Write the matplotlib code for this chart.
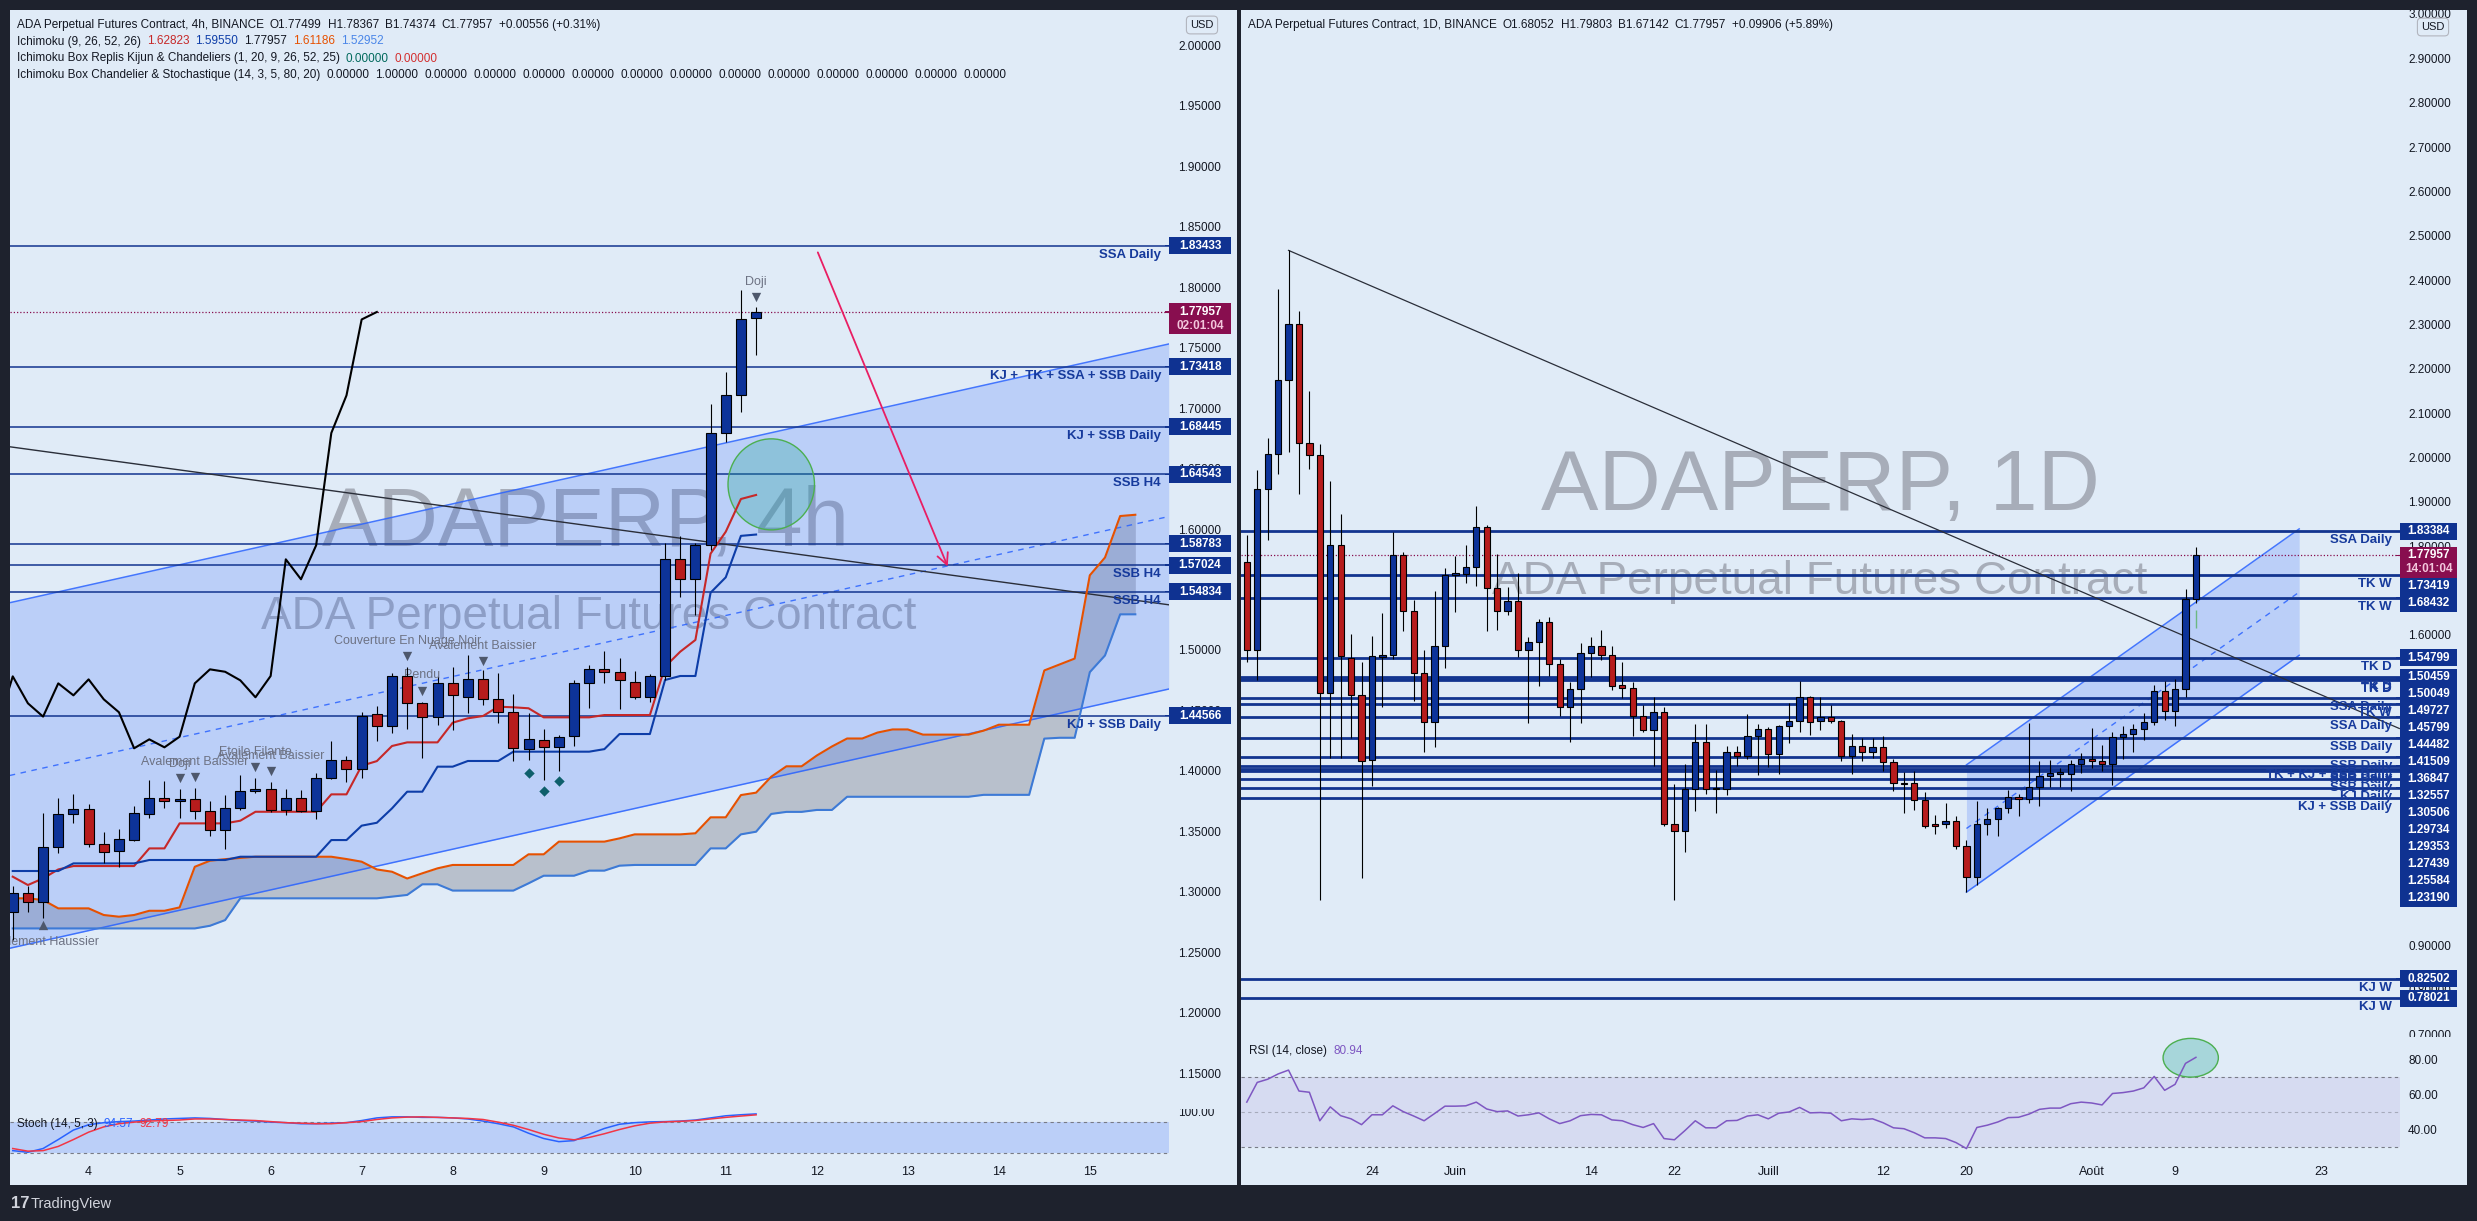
import numpy as np
import matplotlib
matplotlib.use("Agg")
import matplotlib.pyplot as plt
from matplotlib.patches import Rectangle, Ellipse
from matplotlib import transforms as mtrans
from matplotlib import font_manager

plt.rcParams['font.family'] = ['Liberation Sans', 'DejaVu Sans']

# ============================ DATA ============================
# ---- 4h chart: bar index 0 = 4 Aug 00:00, one step = one 4h bar ----
bar4h = list(range(-5, 45))
open4h = [1.2830, 1.2987, 1.2918, 1.3367, 1.3640, 1.3682, 1.3392, 1.3334, 1.3425, 1.3640,
          1.3773, 1.3748, 1.3764, 1.3665, 1.3508, 1.3690, 1.3833, 1.3847, 1.3676, 1.3773,
          1.3665, 1.3944, 1.4087, 1.4013, 1.4467, 1.4368, 1.4785, 1.4559, 1.4449, 1.4724,
          1.4614, 1.4757, 1.4598, 1.4485, 1.4178, 1.4253, 1.4195, 1.4289, 1.4724, 1.4840,
          1.4820, 1.4738, 1.4609, 1.4785, 1.5750, 1.5585, 1.5866, 1.6795, 1.7106, 1.77499]
high4h = [1.3048, 1.3048, 1.3649, 1.3775, 1.3810, 1.3723, 1.3491, 1.3522, 1.3709, 1.3924,
          1.3916, 1.3850, 1.3858, 1.3750, 1.3800, 1.3966, 1.3941, 1.3908, 1.3850, 1.3842,
          1.3979, 1.4247, 1.4123, 1.4484, 1.4536, 1.4812, 1.4862, 1.4573, 1.4779, 1.4862,
          1.4959, 1.4835, 1.4807, 1.4633, 1.4476, 1.4344, 1.4297, 1.4752, 1.4876, 1.4992,
          1.4931, 1.4826, 1.4799, 1.5882, 1.5943, 1.5882, 1.7035, 1.7302, 1.7980, 1.78367]
low4h = [1.2601, 1.2835, 1.2786, 1.3323, 1.3566, 1.3367, 1.3241, 1.3202, 1.3420, 1.3613,
         1.3695, 1.3607, 1.3599, 1.3458, 1.3351, 1.3676, 1.3814, 1.3662, 1.3635, 1.3657,
         1.3604, 1.3935, 1.3910, 1.3944, 1.4247, 1.4310, 1.4349, 1.4110, 1.4382, 1.4338,
         1.4476, 1.4545, 1.4399, 1.4085, 1.4088, 1.3925, 1.4002, 1.4209, 1.4517, 1.4724,
         1.4509, 1.4592, 1.4573, 1.4752, 1.5436, 1.5287, 1.5830, 1.6720, 1.6965, 1.74374]
close4h = [1.2987, 1.2918, 1.3367, 1.3640, 1.3682, 1.3392, 1.3326, 1.3433, 1.3649, 1.3775,
           1.3748, 1.3764, 1.3665, 1.3508, 1.3690, 1.3833, 1.3847, 1.3676, 1.3773, 1.3665,
           1.3938, 1.4087, 1.4013, 1.4450, 1.4368, 1.4782, 1.4559, 1.4449, 1.4724, 1.4625,
           1.4757, 1.4592, 1.4485, 1.4187, 1.4261, 1.4195, 1.4283, 1.4724, 1.4840, 1.4820,
           1.4749, 1.4609, 1.4785, 1.5750, 1.5585, 1.5866, 1.6795, 1.7106, 1.7734, 1.77957]
tenkan4h = [1.3125, 1.3056, 1.3111, 1.3185, 1.3213, 1.3213, 1.3213, 1.3213, 1.3213, 1.3359,
            1.3359, 1.3566, 1.3566, 1.3566, 1.3566, 1.3588, 1.3662, 1.3662, 1.3662, 1.3662,
            1.3662, 1.3806, 1.3806, 1.4043, 1.4081, 1.4206, 1.4236, 1.4236, 1.4236, 1.4399,
            1.4435, 1.4454, 1.4531, 1.4526, 1.4518, 1.4443, 1.4443, 1.4443, 1.4443, 1.4462,
            1.4462, 1.4462, 1.4462, 1.4862, 1.4986, 1.5083, 1.5797, 1.5978, 1.6249, 1.62823]
kijun4h = [1.3172, 1.3172, 1.3172, 1.3172, 1.3235, 1.3235, 1.3235, 1.3235, 1.3235, 1.3263,
           1.3263, 1.3263, 1.3263, 1.3263, 1.3263, 1.3290, 1.3290, 1.3290, 1.3290, 1.3290,
           1.3290, 1.3428, 1.3428, 1.3547, 1.3571, 1.3690, 1.3828, 1.3828, 1.4035, 1.4035,
           1.4082, 1.4082, 1.4082, 1.4159, 1.4159, 1.4159, 1.4159, 1.4159, 1.4159, 1.4180,
           1.4305, 1.4305, 1.4305, 1.4752, 1.4785, 1.4785, 1.5474, 1.5601, 1.5944, 1.59550]
cloud_bar4h = list(range(-5, 70))
senkou_a4h = [1.2946, 1.2946, 1.2932, 1.2863, 1.2863, 1.2863, 1.2808, 1.2794, 1.2808, 1.2843,
              1.2843, 1.2871, 1.3207, 1.3257, 1.3270, 1.3280, 1.3290, 1.3290, 1.3290, 1.3290,
              1.3290, 1.3290, 1.3271, 1.3249, 1.3185, 1.3166, 1.3110, 1.3153, 1.3194, 1.3222,
              1.3222, 1.3222, 1.3222, 1.3222, 1.3310, 1.3310, 1.3415, 1.3415, 1.3415, 1.3415,
              1.3442, 1.3475, 1.3475, 1.3475, 1.3475, 1.3484, 1.3616, 1.3616, 1.3800, 1.3820,
              1.3952, 1.4038, 1.4038, 1.4127, 1.4202, 1.4268, 1.4268, 1.4317, 1.4343, 1.4343,
              1.4300, 1.4300, 1.4300, 1.4300, 1.4333, 1.4382, 1.4382, 1.4382, 1.4831, 1.4880,
              1.4929, 1.5618, 1.5765, 1.6108, 1.61186]
senkou_b4h = [1.2697, 1.2697, 1.2697, 1.2697, 1.2697, 1.2697, 1.2697, 1.2697, 1.2697, 1.2697,
              1.2697, 1.2697, 1.2697, 1.2719, 1.2766, 1.2946, 1.2946, 1.2946, 1.2946, 1.2946,
              1.2946, 1.2946, 1.2946, 1.2946, 1.2946, 1.2960, 1.2974, 1.3062, 1.3062, 1.3010,
              1.3010, 1.3010, 1.3010, 1.3010, 1.3070, 1.3133, 1.3133, 1.3133, 1.3175, 1.3175,
              1.3216, 1.3222, 1.3222, 1.3222, 1.3222, 1.3222, 1.3359, 1.3359, 1.3475, 1.3497,
              1.3644, 1.3661, 1.3661, 1.3677, 1.3677, 1.3786, 1.3786, 1.3786, 1.3786, 1.3786,
              1.3786, 1.3786, 1.3786, 1.3786, 1.3802, 1.3802, 1.3802, 1.3802, 1.4267, 1.4274,
              1.4274, 1.4817, 1.4955, 1.5295, 1.52952]
chikou_shift4h = 25
stoch_k4h = [25, 22, 29, 46, 64, 74, 78, 80, 81, 83, 85, 86, 87, 86, 84, 82, 81, 79, 78, 76,
             76, 77, 78, 82, 87, 89, 89, 88, 88, 87, 85, 81, 76, 70, 58, 48, 42, 44, 56, 67,
             75, 78, 79.5, 80, 81, 83, 87, 91, 93, 94.57]
stoch_d4h = [29, 24, 25, 33, 46, 60, 70, 76, 79, 81, 82, 83, 85, 85, 84, 83, 82, 80, 78, 77,
             76, 76, 78, 80, 84, 87, 88.5, 89, 88, 87, 86, 84, 79, 73, 65, 56, 49, 45.5, 50, 57,
             65, 72, 77, 79.5, 80.5, 82, 85, 88, 90.5, 92.79]
levels4h = [1.83433, 1.73418, 1.68445, 1.64543, 1.58783, 1.57024, 1.54834, 1.44566]
level_names4h = ['SSA Daily', 'KJ +  TK + SSA + SSB Daily', 'KJ + SSB Daily', 'SSB H4', '',
                 'SSB H4', 'SSB H4', 'KJ + SSB Daily']
day_tick_bars4h = [0, 6, 12, 18, 24, 30, 36, 42, 48, 54, 60, 66]
day_tick_labels4h = ['4', '5', '6', '7', '8', '9', '10', '11', '12', '13', '14', '15']
pattern_bars4h = [-3, 6, 7, 11, 12, 21, 22, 26, 44]
pattern_names4h = ['Avalement Haussier', 'Doji', 'Avalement Baissier', 'Etoile Filante',
                   'Avalement Baissier', 'Couverture En Nuage Noir', 'Pendu',
                   'Avalement Baissier', 'Doji']
pattern_text_price4h = [1.2587, 1.4057, 1.4076, 1.4159, 1.4123, 1.5076, 1.4792, 1.5033, 1.8045]
pattern_mark_price4h = [1.2725, 1.3938, 1.3946, 1.4030, 1.3996, 1.4949, 1.4660, 1.4906, 1.7923]
pattern_mark4h = ['^', 'v', 'v', 'v', 'v', 'v', 'v', 'v', 'v']
diamond_bars4h = [29, 30, 31]
diamond_price4h = [1.3985, 1.3834, 1.3919]
channel4h_bars = [-5.2, 71.2]
channel4h_upper = [1.5391, 1.7531]
channel4h_lower = [1.2533, 1.4677]
trend4h_bars = [-5.2, 71.2]
trend4h_price = [1.6681, 1.5374]
arrow4h_bars = [48.0, 56.7]
arrow4h_price = [1.831, 1.567]
ellipse4h = [45.0, 1.637, 5.7, 0.0753]      # centre bar, centre price, width (bars), height (price)
last_price = 1.77957
timer4h = '02:01:04'
timer1d = '14:01:04'

# ---- Daily chart: day index 0 = 12 May 2021 ----
day1d = list(range(92))
open1d = [1.765, 1.567, 1.930, 2.008, 2.174, 2.300, 2.032, 2.005, 1.468, 1.802,
          1.548, 1.464, 1.318, 1.550, 1.555, 1.780, 1.655, 1.514, 1.403, 1.576,
          1.736, 1.738, 1.752, 1.844, 1.706, 1.655, 1.676, 1.566, 1.584, 1.628,
          1.534, 1.437, 1.479, 1.560, 1.576, 1.555, 1.486, 1.481, 1.418, 1.386,
          1.426, 1.173, 1.157, 1.252, 1.359, 1.252, 1.252, 1.337, 1.327, 1.373,
          1.387, 1.331, 1.395, 1.405, 1.461, 1.405, 1.416, 1.405, 1.328, 1.350,
          1.335, 1.347, 1.313, 1.266, 1.265, 1.228, 1.171, 1.173, 1.181, 1.124,
          1.055, 1.173, 1.186, 1.209, 1.234, 1.229, 1.256, 1.281, 1.287, 1.286,
          1.310, 1.320, 1.315, 1.309, 1.369, 1.376, 1.388, 1.403, 1.474, 1.428,
          1.477, 1.68052]
high1d = [1.826, 1.972, 2.044, 2.381, 2.467, 2.330, 2.149, 2.031, 1.947, 1.873,
          1.602, 1.540, 1.597, 1.650, 1.831, 1.788, 1.679, 1.565, 1.699, 1.750,
          1.778, 1.802, 1.891, 1.848, 1.783, 1.708, 1.739, 1.596, 1.635, 1.640,
          1.545, 1.494, 1.582, 1.596, 1.611, 1.576, 1.538, 1.494, 1.442, 1.459,
          1.437, 1.263, 1.310, 1.400, 1.400, 1.296, 1.350, 1.350, 1.421, 1.398,
          1.392, 1.397, 1.446, 1.496, 1.463, 1.459, 1.441, 1.408, 1.376, 1.367,
          1.367, 1.373, 1.321, 1.290, 1.293, 1.246, 1.195, 1.220, 1.192, 1.138,
          1.225, 1.209, 1.212, 1.250, 1.241, 1.401, 1.316, 1.319, 1.299, 1.319,
          1.333, 1.389, 1.352, 1.380, 1.395, 1.399, 1.425, 1.487, 1.497, 1.500,
          1.703, 1.79803]
low1d = [1.540, 1.498, 1.813, 1.963, 2.013, 1.917, 1.973, 1.002, 1.322, 1.322,
         1.367, 1.051, 1.259, 1.437, 1.545, 1.609, 1.450, 1.335, 1.347, 1.525,
         1.652, 1.716, 1.711, 1.609, 1.611, 1.645, 1.550, 1.401, 1.484, 1.508,
         1.418, 1.359, 1.401, 1.506, 1.543, 1.475, 1.457, 1.372, 1.381, 1.305,
         1.169, 1.002, 1.110, 1.203, 1.242, 1.198, 1.240, 1.305, 1.320, 1.283,
         1.303, 1.286, 1.357, 1.382, 1.374, 1.386, 1.401, 1.316, 1.286, 1.316,
         1.322, 1.292, 1.249, 1.198, 1.205, 1.165, 1.150, 1.165, 1.117, 1.020,
         1.036, 1.148, 1.146, 1.198, 1.192, 1.222, 1.215, 1.258, 1.258, 1.249,
         1.288, 1.300, 1.294, 1.262, 1.321, 1.337, 1.362, 1.396, 1.409, 1.394,
         1.459, 1.67142]
close1d = [1.567, 1.929, 2.008, 2.174, 2.300, 2.032, 2.005, 1.468, 1.802, 1.552,
           1.464, 1.315, 1.552, 1.555, 1.780, 1.655, 1.514, 1.403, 1.574, 1.736,
           1.738, 1.752, 1.844, 1.706, 1.655, 1.676, 1.566, 1.584, 1.628, 1.534,
           1.437, 1.479, 1.560, 1.576, 1.555, 1.484, 1.481, 1.418, 1.386, 1.426,
           1.173, 1.157, 1.252, 1.359, 1.252, 1.255, 1.337, 1.327, 1.373, 1.387,
           1.331, 1.395, 1.405, 1.461, 1.403, 1.416, 1.405, 1.328, 1.350, 1.335,
           1.347, 1.313, 1.265, 1.264, 1.228, 1.170, 1.170, 1.181, 1.124, 1.055,
           1.173, 1.186, 1.209, 1.234, 1.229, 1.256, 1.282, 1.288, 1.288, 1.310,
           1.320, 1.315, 1.310, 1.370, 1.376, 1.388, 1.403, 1.474, 1.428, 1.477,
           1.680, 1.77957]
rsi1d = [55.5, 66.7, 68.5, 71.5, 73.7, 61.8, 61.1, 44.9, 52.8, 47.8,
         46.0, 42.7, 48.3, 48.3, 53.4, 50.1, 47.6, 44.9, 49.0, 53.2,
         53.2, 53.4, 55.5, 51.6, 50.1, 50.5, 47.6, 48.3, 49.4, 46.0,
         43.3, 44.9, 47.8, 48.5, 48.3, 45.4, 44.9, 42.7, 41.1, 43.3,
         34.8, 34.1, 39.3, 44.9, 40.9, 40.9, 44.9, 45.1, 47.6, 48.3,
         46.0, 49.2, 49.9, 52.5, 49.4, 49.6, 49.2, 44.9, 46.0, 45.6,
         46.0, 43.8, 40.9, 40.4, 38.1, 35.2, 35.2, 34.8, 32.5, 29.1,
         41.1, 42.4, 44.2, 46.7, 46.9, 48.7, 51.4, 52.1, 52.1, 54.6,
         55.5, 55.0, 53.9, 60.4, 60.9, 61.8, 63.6, 70.1, 62.2, 65.6,
         77.5, 80.94]
levels1d = [1.83384, 1.73419, 1.68432, 1.54799, 1.50459, 1.50049, 1.49727, 1.45799,
            1.44482, 1.41509, 1.36847, 1.32557, 1.30506, 1.29734, 1.29353, 1.27439,
            1.25584, 1.23190, 0.82502, 0.78021]
level_names1d = ['SSA Daily', 'TK W', 'TK W', 'TK D', 'TK D', 'TK D', 'TK D', 'SSA Daily',
                 'TK W', 'SSA Daily', 'SSB Daily', 'SSB Daily', 'TK + KJ + SSB Daily',
                 'SSB Daily', 'SSB Daily', 'SSB Daily', 'KJ Daily', 'KJ + SSB Daily',
                 'KJ W', 'KJ W']
day_tick_pos1d = [12, 20, 33, 41, 50, 61, 69, 81, 89, 103]
day_tick_labels1d = ['24', 'Juin', '14', '22', 'Juill', '12', '20', 'Août', '9', '23']
channel1d_days = [69.0, 100.9]
channel1d_upper = [1.307, 1.839]
channel1d_lower = [1.020, 1.554]
trend1d_days = [4.0, 110.5]
trend1d_price = [2.467, 1.389]
green_mark_day1d = 91
green_mark_range1d = [1.615, 1.656]
rsi_ellipse1d = [90.5, 80.7, 5.3, 22.0]     # centre day, centre RSI, width (days), height (RSI)

# ============================ STYLE / LAYOUT ============================
W, H, DPI = 2477, 1221, 100
BG = '#e0ebf7'
FRAME = '#1e222d'
TXT = '#131722'
UP = '#0d3399'
DOWN = '#b71c1c'
LEVEL = '#12348f'
LEVEL_TXT = '#163a9c'
BOX = '#0f3291'
LAST_BOX = '#880e4f'
CHAN = '#2962ff'
WM = '#787b86'

names_avail = {f.name for f in font_manager.fontManager.ttflist}
if 'Liberation Sans Narrow' in names_avail:
    WM_FAMILY, WM_SIZE = 'Liberation Sans Narrow', 69
else:
    WM_FAMILY, WM_SIZE = 'Liberation Sans', 60

fig = plt.figure(figsize=(W / DPI, H / DPI), dpi=DPI, facecolor=FRAME)
renderer = fig.canvas.get_renderer()


def fpos(x, y):
    return x / W, 1 - y / H


def frect(x0, y0, x1, y1, color, z):
    fig.add_artist(Rectangle(fpos(x0, y1), (x1 - x0) / W, (y1 - y0) / H,
                             transform=fig.transFigure, facecolor=color,
                             edgecolor='none', zorder=z))


def make_ax(x0, y0, x1, y1, xlim, ylim, pad):
    ax = fig.add_axes([x0 / W, 1 - y1 / H, (x1 - x0) / W, (y1 - y0) / H])
    ax.set_facecolor('none')
    for s in ax.spines.values():
        s.set_visible(False)
    ax.set_xlim(*xlim)
    ax.set_ylim(*ylim)
    ax.yaxis.tick_right()
    ax.tick_params(length=0, labelsize=8.5, labelcolor=TXT)
    ax.tick_params(axis='y', pad=pad)
    ax.set_xticks([])
    return ax


def draw_candles(ax, x, o, h, l, c, width, min_h, lw):
    x = np.asarray(x, float)
    o, h, l, c = (np.asarray(v, float) for v in (o, h, l, c))
    up = c >= o
    ax.vlines(x, l, h, colors='black', lw=lw, zorder=4)
    bottom = np.minimum(o, c)
    height = np.maximum(np.abs(c - o), min_h)
    ax.bar(x, height, width, bottom=bottom, color=np.where(up, UP, DOWN),
           edgecolor='black', linewidth=lw, zorder=4.2)


def level_lines(ax, levels, names, lw):
    tr = mtrans.blended_transform_factory(ax.transAxes, ax.transData)
    for p, n in zip(levels, names):
        ax.axhline(p, color=LEVEL, lw=lw, zorder=2.2)
        if n:
            ax.annotate(n, xy=(1, p), xycoords=tr, xytext=(-8, -3),
                        textcoords='offset pixels', ha='right', va='top',
                        fontsize=9.5, fontweight='bold', color=LEVEL_TXT,
                        zorder=6, annotation_clip=False)
    ax.axhline(last_price, color=LAST_BOX, lw=0.9, ls=(0, (1, 1.6)), zorder=2.2)


def price_boxes(ax, items, x_left, box_w):
    """TradingView-like axis labels, pushed down when they would overlap."""
    items = sorted(items, key=lambda t: -t[0])
    prev_bottom = -1e9
    half, step = 8.5, 14.0
    for price, lines, fc in items:
        y = H - ax.transData.transform((0, price))[1]
        centre = max(y, prev_bottom + half)
        top = centre - half
        bottom = centre + half + step * (len(lines) - 1)
        frect(x_left, top, x_left + box_w, bottom, fc, 5)
        frect(x_left - 4, y - 0.6, x_left, y + 0.6, fc, 5)
        for j, s in enumerate(lines):
            col = 'white' if j == 0 else '#f3c6dc'
            fig.text(*fpos(x_left + box_w / 2, centre + j * step), s, ha='center',
                     va='center', color=col, fontsize=8.5, fontweight='bold', zorder=6)
        prev_bottom = bottom


def seq_text(x, y, segs, fs=8.5, gap=6):
    for s, col in segs:
        t = fig.text(*fpos(x, y), s, color=col, fontsize=fs, ha='left', va='center', zorder=7)
        x += t.get_window_extent(renderer=renderer).width + gap


def usd_box(x, y):
    fig.text(*fpos(x, y), 'USD', ha='center', va='center', fontsize=8, color=TXT, zorder=7,
             bbox=dict(boxstyle='round,pad=0.35', fc=BG, ec='#b2b5be', lw=0.8))


# panel backgrounds
frect(10, 10, 1237, 1185, BG, -10)
frect(1241, 10, 2467, 1185, BG, -10)

# ---------------- LEFT PANEL (4h) ----------------
bx = lambda x: (x - 88.6) / 15.17
py = lambda y: 2.0 - (y - 45.5) / 1209.0
axL = make_ax(10, 10, 1169, 1106, (bx(10), bx(1169)), (py(1106), py(10)), 6.5)
ticksL = np.round(np.arange(1.15, 2.0001, 0.05), 2)
axL.set_yticks(ticksL, labels=[f'{v:.5f}' for v in ticksL])

axL.text(*fpos(585, 545), 'ADAPERP, 4h', transform=fig.transFigure, ha='center',
         va='baseline', fontsize=WM_SIZE, family=WM_FAMILY, color=WM, alpha=0.55, zorder=0.5)
axL.text(*fpos(589, 629), 'ADA Perpetual Futures Contract', transform=fig.transFigure,
         ha='center', va='baseline', fontsize=33, color=WM, alpha=0.55, zorder=0.5)

axL.fill_between(cloud_bar4h, senkou_a4h, senkou_b4h, color=WM, alpha=0.38, lw=0, zorder=1)
axL.fill_between(channel4h_bars, channel4h_lower, channel4h_upper, color=CHAN, alpha=0.2,
                 lw=0, zorder=1.5)
axL.plot(channel4h_bars, channel4h_upper, color=CHAN, lw=1.1, alpha=0.85, zorder=1.6)
axL.plot(channel4h_bars, channel4h_lower, color=CHAN, lw=1.1, alpha=0.85, zorder=1.6)
axL.plot(channel4h_bars, (np.array(channel4h_upper) + np.array(channel4h_lower)) / 2,
         color=CHAN, lw=1.0, alpha=0.85, ls=(0, (4, 4)), zorder=1.6)
axL.plot(cloud_bar4h, senkou_a4h, color='#e65100', lw=1.5, zorder=3)
axL.plot(cloud_bar4h, senkou_b4h, color='#3d7ad6', lw=1.5, zorder=3)
level_lines(axL, levels4h, level_names4h, 1.1)
axL.plot(trend4h_bars, trend4h_price, color='#2a2e39', lw=1.0, zorder=2.3)
axL.add_patch(Ellipse((ellipse4h[0], ellipse4h[1]), ellipse4h[2], ellipse4h[3],
                      facecolor=(0.15, 0.65, 0.6, 0.3), edgecolor='#4caf50', lw=1, zorder=2.5))
axL.plot(bar4h, tenkan4h, color='#c62828', lw=1.5, zorder=3)
axL.plot(bar4h, kijun4h, color='#0d3da8', lw=1.5, zorder=3)
axL.plot(np.array(bar4h) - chikou_shift4h, close4h, color='black', lw=1.5, zorder=3)
for b, name, tp in zip(pattern_bars4h, pattern_names4h, pattern_text_price4h):
    axL.text(b, tp, name, ha='center', va='center', fontsize=9, color='#6d7283', zorder=3.5)
for b, mp, mk in zip(pattern_bars4h, pattern_mark_price4h, pattern_mark4h):
    axL.scatter([b], [mp], marker=mk, s=45, color='#4e586c', linewidths=0, zorder=4.6)
axL.scatter(diamond_bars4h, diamond_price4h, marker='D', s=28, color='#0e5f6b',
            linewidths=0, zorder=4.6)
draw_candles(axL, bar4h, open4h, high4h, low4h, close4h, 0.66, 0.0009, 0.8)
axL.annotate('', xy=(arrow4h_bars[1], arrow4h_price[1]),
             xytext=(arrow4h_bars[0], arrow4h_price[0]),
             arrowprops=dict(arrowstyle='->,head_length=0.8,head_width=0.4',
                             color='#e91e63', lw=1.3), zorder=5)

# stochastic pane
sv = lambda y: 80 - (y - 1121.6) / 0.528
axS = make_ax(10, 1106, 1169, 1160, (bx(10), bx(1169)), (sv(1160), sv(1106)), 6.5)
axS.set_yticks([100], labels=['100.00'])
axS.axhspan(20, 80, color=CHAN, alpha=0.2, lw=0, zorder=1)
axS.axhline(80, color='#787b86', lw=0.8, ls=(0, (3, 3)), zorder=1.5)
axS.axhline(20, color='#787b86', lw=0.8, ls=(0, (3, 3)), zorder=1.5)
axS.plot(bar4h, stoch_k4h, color='#2962ff', lw=1.1, zorder=3)
axS.plot(bar4h, stoch_d4h, color='#f23645', lw=1.1, zorder=3)
axS.set_xticks(day_tick_bars4h, labels=day_tick_labels4h)
axS.tick_params(axis='x', pad=4, labelsize=9)

# ---------------- RIGHT PANEL (1D) ----------------
dx = lambda x: (x - 1246.8) / 10.43
pr = lambda y: 2.0 - (y - 457.5) / 443.5
axR = make_ax(1241, 10, 2400, 1037, (dx(1241), dx(2400)), (pr(1037), pr(10)), 5.8)
ticksR = np.round(np.arange(0.7, 3.0001, 0.1), 1)
axR.set_yticks(ticksR, labels=[f'{v:.5f}' for v in ticksR])

axR.text(*fpos(1820, 510), 'ADAPERP, 1D', transform=fig.transFigure, ha='center',
         va='baseline', fontsize=WM_SIZE + 2, family=WM_FAMILY, color=WM, alpha=0.55, zorder=0.5)
axR.text(*fpos(1820, 594), 'ADA Perpetual Futures Contract', transform=fig.transFigure,
         ha='center', va='baseline', fontsize=33, color=WM, alpha=0.55, zorder=0.5)

axR.fill_between(channel1d_days, channel1d_lower, channel1d_upper, color=CHAN, alpha=0.2,
                 lw=0, zorder=1.5)
axR.plot(channel1d_days, channel1d_upper, color=CHAN, lw=1.1, alpha=0.85, zorder=1.6)
axR.plot(channel1d_days, channel1d_lower, color=CHAN, lw=1.1, alpha=0.85, zorder=1.6)
axR.plot(channel1d_days, (np.array(channel1d_upper) + np.array(channel1d_lower)) / 2,
         color=CHAN, lw=1.0, alpha=0.85, ls=(0, (4, 4)), zorder=1.6)
level_lines(axR, levels1d, level_names1d, 2.0)
axR.plot(trend1d_days, trend1d_price, color='#2a2e39', lw=0.9, zorder=2.3)
axR.vlines([green_mark_day1d], green_mark_range1d[0], green_mark_range1d[1],
           colors='#4caf50', lw=1, alpha=0.7, zorder=3)
draw_candles(axR, day1d, open1d, high1d, low1d, close1d, 0.6, 0.003, 0.8)

# RSI pane
rv = lambda y: 80 - (y - 1059) / 1.76
axI = make_ax(1241, 1037, 2400, 1160, (dx(1241), dx(2400)), (rv(1160), rv(1037)), 5.8)
axI.set_yticks([40, 60, 80], labels=['40.00', '60.00', '80.00'])
axI.axhspan(30, 70, color='#7e57c2', alpha=0.1, lw=0, zorder=1)
axI.axhline(70, color='#787b86', lw=0.8, ls=(0, (3, 3)), zorder=1.5)
axI.axhline(30, color='#787b86', lw=0.8, ls=(0, (3, 3)), zorder=1.5)
axI.axhline(50, color='#787b86', lw=0.8, ls=(0, (3, 3)), alpha=0.5, zorder=1.5)
axI.add_patch(Ellipse((rsi_ellipse1d[0], rsi_ellipse1d[1]), rsi_ellipse1d[2], rsi_ellipse1d[3],
                      facecolor=(0.15, 0.65, 0.6, 0.3), edgecolor='#4caf50', lw=1, zorder=2))
axI.plot(day1d, rsi1d, color='#7e57c2', lw=1.1, zorder=3)
axI.set_xticks(day_tick_pos1d, labels=day_tick_labels1d)
axI.tick_params(axis='x', pad=4, labelsize=9)

# partly hidden axis labels at pane borders
frect(1170, 1098, 1236, 1108.5, BG, 4)
frect(2401, 1037, 2466, 1046, BG, 4)

# price boxes on the axes
price_boxes(axL, [(p, [f'{p:.5f}'], BOX) for p in levels4h]
            + [(last_price, [f'{last_price:.5f}', timer4h], LAST_BOX)], 1169, 62)
price_boxes(axR, [(p, [f'{p:.5f}'], BOX) for p in levels1d]
            + [(last_price, [f'{last_price:.5f}', timer1d], LAST_BOX)], 2400, 57)

# ---------------- HEADERS ----------------
seq_text(17, 25, [('ADA Perpetual Futures Contract, 4h, BINANCE', TXT), ('O1.77499', TXT),
                  ('H1.78367', TXT), ('B1.74374', TXT), ('C1.77957', TXT),
                  ('+0.00556 (+0.31%)', TXT)])
seq_text(17, 41.5, [('Ichimoku (9, 26, 52, 26)', TXT), ('1.62823', '#c62828'),
                    ('1.59550', '#0d3da8'), ('1.77957', TXT), ('1.61186', '#e65100'),
                    ('1.52952', '#4a86e8')])
seq_text(17, 58.5, [('Ichimoku Box Replis Kijun & Chandeliers (1, 20, 9, 26, 52, 25)', TXT),
                    ('0.00000', '#00695c'), ('0.00000', '#d32f2f')])
seq_text(17, 75, [('Ichimoku Box Chandelier & Stochastique (14, 3, 5, 80, 20)', TXT)]
         + [(v, TXT) for v in ['0.00000', '1.00000'] + ['0.00000'] * 12])
seq_text(1248, 25, [('ADA Perpetual Futures Contract, 1D, BINANCE', TXT), ('O1.68052', TXT),
                    ('H1.79803', TXT), ('B1.67142', TXT), ('C1.77957', TXT),
                    ('+0.09906 (+5.89%)', TXT)])
seq_text(17, 1124, [('Stoch (14, 5, 3)', TXT), ('94.57', '#2962ff'), ('92.79', '#f23645')])
seq_text(1249, 1051, [('RSI (14, close)', TXT), ('80.94', '#7e57c2')])
usd_box(1202, 25)
usd_box(2433, 27)

# ---------------- FRAME ----------------
frect(0, 0, W, 10, FRAME, 20)
frect(0, 1185, W, H, FRAME, 20)
frect(0, 0, 10, H, FRAME, 20)
frect(1237, 0, 1241, H, FRAME, 20)
frect(2467, 0, W, H, FRAME, 20)
fig.text(*fpos(11, 1204), '17', fontsize=12, fontweight='bold', color='#d1d4dc',
         va='center', ha='left', zorder=21)
fig.text(*fpos(31, 1204), 'TradingView', fontsize=10.5, color='#d1d4dc',
         va='center', ha='left', zorder=21)

fig.savefig('out.png', dpi=DPI, facecolor=FRAME)
